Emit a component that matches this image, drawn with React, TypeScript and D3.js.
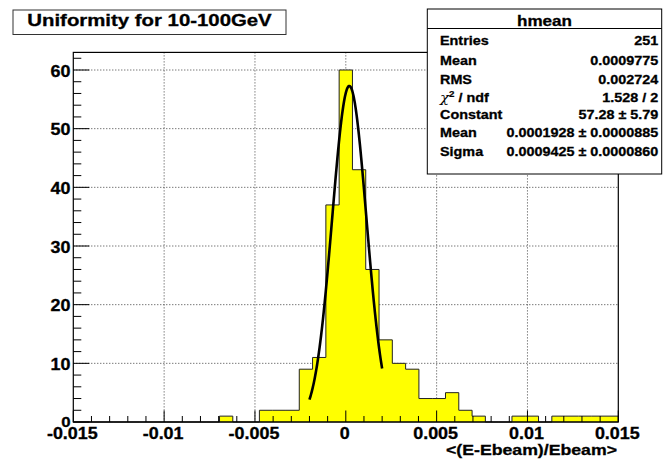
import React from "react";
import * as d3 from "d3";

// Histogram binning: 41 equal bins over the displayed range
const binLow = -0.015;
const binHigh = 0.015;
const binCounts = [
  0, 0, 0, 0, 0, 0, 0, 0, 0, 0, 0, 1, 0, 0, 2, 2, 2, 9, 11, 37, 60, 43, 26, 14,
  10, 9, 4, 4, 5, 2, 1, 0, 0, 1, 1, 0, 1, 1, 1, 1, 1,
];

// Gaussian fit parameters and fit range
const fitConstant = 57.28;
const fitMean = 0.0001928;
const fitSigma = 0.0009425;
const fitRange = [-0.002, 0.002];

// Axis ticks
const xTickValues = [-0.015, -0.01, -0.005, 0, 0.005, 0.01, 0.015];
const xTickLabels = ["-0.015", "-0.01", "-0.005", "0", "0.005", "0.01", "0.015"];
const yTickValues = [0, 10, 20, 30, 40, 50, 60];
const yTickLabels = ["0", "10", "20", "30", "40", "50", "60"];
const yMax = 63;

// Text
const chartTitle = "Uniformity for 10-100GeV";
const xAxisTitle = "<(E-Ebeam)/Ebeam>";
const statsName = "hmean";
const statLabels = ["Entries", "Mean", "RMS", "chi2", "Constant", "Mean", "Sigma"];
const statValues = [
  "251",
  "0.0009775",
  "0.002724",
  "1.528 / 2",
  "57.28 \u00b1 5.79",
  "0.0001928 \u00b1 0.0000885",
  "0.0009425 \u00b1 0.0000860",
];

const W = 663;
const H = 461;
const frame = { left: 73.3, right: 618.3, top: 52.4, bottom: 422 };
const FONT = "'Liberation Sans', Arial, Helvetica, sans-serif";

type STextProps = {
  x: number;
  y: number;
  size: number;
  stretch?: number;
  anchor?: "start" | "middle" | "end";
  children: React.ReactNode;
};

// Bold text with a horizontal stretch, anchored at (x, y)
function SText({ x, y, size, stretch = 1.12, anchor = "start", children }: STextProps) {
  return (
    <text
      transform={`translate(${x},${y}) scale(${stretch},1)`}
      textAnchor={anchor}
      fontSize={size}
      fontWeight="bold"
      fontFamily={FONT}
      fill="#000"
      stroke="#000"
      strokeWidth={0.3}
    >
      {children}
    </text>
  );
}

export default function App() {
  const x = d3.scaleLinear().domain([binLow, binHigh]).range([frame.left, frame.right]);
  const y = d3.scaleLinear().domain([0, yMax]).range([frame.bottom, frame.top]);
  const binWidth = (binHigh - binLow) / binCounts.length;

  // Step outline of the histogram, closed down to zero
  const pts: [number, number][] = [[binLow, 0]];
  binCounts.forEach((c, i) => {
    const x0 = binLow + i * binWidth;
    pts.push([x0, c], [x0 + binWidth, c]);
  });
  pts.push([binHigh, 0]);
  const histPath =
    d3
      .line<[number, number]>()
      .x((d) => x(d[0]))
      .y((d) => y(d[1]))(pts) + "Z";

  // Fitted gaussian over the fit range
  const gauss = (v: number) =>
    fitConstant * Math.exp(-0.5 * ((v - fitMean) / fitSigma) ** 2);
  const fitXs = d3.range(0, 201).map((k) => fitRange[0] + ((fitRange[1] - fitRange[0]) * k) / 200);
  const fitPath = d3
    .line<number>()
    .x((v) => x(v))
    .y((v) => y(gauss(v)))
    .curve(d3.curveLinear)(fitXs);

  const xMinor = d3.range(0, 31).map((k) => binLow + k * 0.001);
  const yMinor = d3.range(0, 32).map((k) => k * 2);

  const gridX = xTickValues.filter((v) => v > binLow && v < binHigh);
  const gridY = yTickValues.filter((v) => v > 0);

  const stats = { left: 427.3, right: 661.7, top: 9, header: 28.5, bottom: 174 };
  const rowY = [45, 64.5, 83.5, 101.5, 118.5, 137, 155.5];

  return (
    <svg
      width={W}
      height={H}
      style={{ position: "absolute", left: 0, top: 0, background: "#fff" }}
    >
      <rect x={0} y={0} width={W} height={H} fill="#fff" />

      {/* grid */}
      <g stroke="#000" strokeWidth={1} strokeDasharray="1,2" opacity={0.75}>
        {gridX.map((v) => (
          <line key={"gx" + v} x1={x(v)} x2={x(v)} y1={frame.top} y2={frame.bottom} />
        ))}
        {gridY.map((v) => (
          <line key={"gy" + v} x1={frame.left} x2={frame.right} y1={y(v)} y2={y(v)} />
        ))}
      </g>

      {/* histogram */}
      <path d={histPath} fill="#ffff00" stroke="#222" strokeWidth={1} />

      {/* fit */}
      <path d={fitPath ?? ""} fill="none" stroke="#000" strokeWidth={2.6} />

      {/* frame */}
      <rect
        x={frame.left}
        y={frame.top}
        width={frame.right - frame.left}
        height={frame.bottom - frame.top}
        fill="none"
        stroke="#000"
        strokeWidth={1.2}
      />

      {/* ticks */}
      <g stroke="#000" strokeWidth={1}>
        {xMinor.map((v, i) => (
          <line
            key={"xm" + i}
            x1={x(v)}
            x2={x(v)}
            y1={frame.bottom}
            y2={frame.bottom - (i % 5 === 0 ? 11.5 : 6)}
          />
        ))}
        {yMinor.map((v, i) => (
          <line
            key={"ym" + i}
            x1={frame.left}
            x2={frame.left + (i % 5 === 0 ? 16 : 8)}
            y1={y(v)}
            y2={y(v)}
          />
        ))}
      </g>

      {/* tick labels */}
      {xTickValues.map((v, i) => (
        <SText key={"xl" + i} x={x(v) - 1} y={438.5} size={16} anchor="middle">
          {xTickLabels[i]}
        </SText>
      ))}
      {yTickValues.map((v, i) => (
        <SText key={"yl" + i} x={70.5} y={y(v) + (v === 0 ? 4.5 : 6.5)} size={v === 0 ? 15 : 16} anchor="end">
          {yTickLabels[i]}
        </SText>
      ))}

      {/* axis title */}
      <SText x={617} y={454.5} size={15} stretch={1.18} anchor="end">
        {xAxisTitle}
      </SText>

      {/* title box */}
      <rect x={13} y={10} width={273} height={24.5} fill="#fff" stroke="#333" strokeWidth={1} />
      <SText x={149.5} y={26.3} size={16.3} stretch={1.25} anchor="middle">
        {chartTitle}
      </SText>

      {/* stats box */}
      <rect
        x={stats.left}
        y={stats.top}
        width={stats.right - stats.left}
        height={stats.bottom - stats.top}
        fill="#fff"
        stroke="#000"
        strokeWidth={1}
      />
      <line x1={stats.left} x2={stats.right} y1={stats.header} y2={stats.header} stroke="#000" strokeWidth={1} />
      <SText x={(stats.left + stats.right) / 2} y={25.5} size={15} stretch={1.14} anchor="middle">
        {statsName}
      </SText>
      {statLabels.map((lab, i) =>
        lab === "chi2" ? (
          <text
            key={"sl" + i}
            transform={`translate(440,${rowY[i]}) scale(1.15,1)`}
            fontSize={12.5}
            fontFamily={FONT}
          >
            <tspan fontStyle="italic" fontFamily="'DejaVu Serif', serif" fontSize={13}>
              χ
            </tspan>
            <tspan fontSize={8.5} dy={-5} fontWeight="bold" stroke="#000" strokeWidth={0.2}>
              2
            </tspan>
            <tspan dy={5} fontWeight="bold" stroke="#000" strokeWidth={0.3}>
              {" / ndf"}
            </tspan>
          </text>
        ) : (
          <SText key={"sl" + i} x={440} y={rowY[i]} size={12.5} stretch={1.15}>
            {lab}
          </SText>
        )
      )}
      {statValues.map((val, i) => (
        <SText key={"sv" + i} x={658.3} y={rowY[i]} size={12.5} stretch={1.15} anchor="end">
          {val}
        </SText>
      ))}
    </svg>
  );
}
